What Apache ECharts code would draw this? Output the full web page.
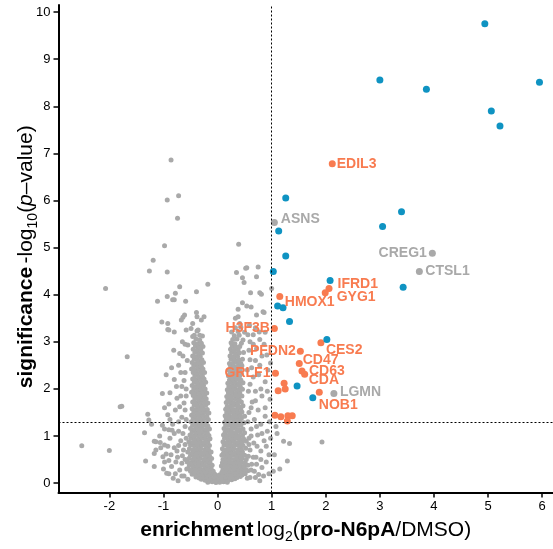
<!DOCTYPE html>
<html>
<head>
<meta charset="utf-8">
<script src="https://cdn.jsdelivr.net/npm/echarts@6/dist/echarts.min.js"></script>
<style>
  html, body { margin: 0; padding: 0; background: #fff; }
  #chart { width: 553px; height: 549px; }
</style>
</head>
<body>
<div id="chart"></div>
<script>
// tick labels
var xTicks = [-2, -1, 0, 1, 2, 3, 4, 5, 6];
var yTicks = [0, 1, 2, 3, 4, 5, 6, 7, 8, 9, 10];

// cut-offs (dotted lines)
var xCut = 1;
var yCut = 1.3;

// not significant proteins: [log2 ratio, -log10 p]
var grayPoints = [
  [-0.18,0.02],[-0.1,0.03],[-0.03,0.01],[0.04,0.02],[0.11,0.03],[0.18,0.02],
  [-0.3,0.08],[-0.23,0.06],[-0.16,0.07],[-0.09,0.08],[-0.02,0.06],[0.05,0.07],[0.12,0.08],[0.19,0.06],[0.26,0.07],[0.32,0.09],
  [-0.4,0.13],[-0.34,0.11],[-0.27,0.12],[-0.2,0.13],[-0.13,0.11],[-0.06,0.12],[0.01,0.13],[0.08,0.11],[0.15,0.12],[0.22,0.13],[0.29,0.11],[0.36,0.12],[0.42,0.14],
  [-0.47,0.19],[-0.4,0.17],[-0.33,0.18],[-0.26,0.19],[-0.19,0.17],[-0.12,0.18],[-0.05,0.19],[0.03,0.17],[0.1,0.18],[0.17,0.19],[0.24,0.17],[0.31,0.18],[0.38,0.19],[0.45,0.17],[0.51,0.2],
  [-0.5,0.25],[-0.43,0.23],[-0.36,0.24],[-0.29,0.25],[-0.22,0.23],[-0.15,0.24],[-0.08,0.25],[0.08,0.23],[0.15,0.24],[0.22,0.25],[0.29,0.23],[0.36,0.24],[0.43,0.25],[0.5,0.23],[0.56,0.26],
  [-0.54,0.31],[-0.47,0.29],[-0.4,0.3],[-0.33,0.31],[-0.26,0.29],[-0.19,0.3],[-0.12,0.31],[0.1,0.29],[0.17,0.3],[0.24,0.31],[0.31,0.29],[0.38,0.3],[0.45,0.31],[0.52,0.29],
  [-0.52,0.38],[-0.45,0.36],[-0.38,0.37],[-0.31,0.38],[-0.24,0.36],[-0.17,0.37],[-0.1,0.38],[0.07,0.36],[0.14,0.37],[0.21,0.38],[0.28,0.36],[0.35,0.37],[0.42,0.38],[0.49,0.36],[0.56,0.38],
  [-0.56,0.45],[-0.49,0.43],[-0.42,0.44],[-0.35,0.45],[-0.28,0.43],[-0.21,0.44],[-0.14,0.45],[0.09,0.43],[0.16,0.44],[0.23,0.45],[0.3,0.43],[0.37,0.44],[0.44,0.45],[0.51,0.43],
  [-0.53,0.52],[-0.46,0.5],[-0.39,0.51],[-0.32,0.52],[-0.25,0.5],[-0.18,0.51],[-0.11,0.52],[0.1,0.5],[0.17,0.51],[0.24,0.52],[0.31,0.5],[0.38,0.51],[0.45,0.52],[0.53,0.5],
  [-0.5,0.59],[-0.43,0.57],[-0.36,0.58],[-0.29,0.59],[-0.22,0.57],[-0.15,0.58],[0.08,0.59],[0.15,0.57],[0.22,0.58],[0.29,0.59],[0.36,0.57],[0.43,0.58],[0.5,0.59],[0.57,0.57],
  [-0.55,0.66],[-0.47,0.64],[-0.4,0.65],[-0.33,0.66],[-0.26,0.64],[-0.19,0.65],[-0.12,0.66],[0.11,0.64],[0.18,0.65],[0.25,0.66],[0.32,0.64],[0.39,0.65],[0.46,0.66],
  [-0.52,0.73],[-0.45,0.71],[-0.38,0.72],[-0.31,0.73],[-0.24,0.71],[-0.17,0.72],[0.09,0.73],[0.16,0.71],[0.23,0.72],[0.3,0.73],[0.37,0.71],[0.44,0.72],[0.52,0.74],
  [-0.5,0.81],[-0.43,0.79],[-0.36,0.8],[-0.29,0.81],[-0.22,0.79],[-0.15,0.8],[0.12,0.81],[0.19,0.79],[0.26,0.8],[0.33,0.81],[0.4,0.79],[0.47,0.8],
  [-0.53,0.88],[-0.46,0.86],[-0.39,0.87],[-0.32,0.88],[-0.25,0.86],[-0.18,0.87],[0.1,0.88],[0.17,0.86],[0.24,0.87],[0.31,0.88],[0.38,0.86],[0.45,0.87],[0.53,0.89],
  [-0.49,0.95],[-0.42,0.93],[-0.35,0.94],[-0.28,0.95],[-0.21,0.93],[-0.14,0.94],[0.13,0.95],[0.2,0.93],[0.27,0.94],[0.34,0.95],[0.41,0.93],[0.48,0.94],
  [-0.51,1.02],[-0.44,1.0],[-0.37,1.01],[-0.3,1.02],[-0.23,1.0],[-0.16,1.01],[0.11,1.02],[0.18,1.0],[0.25,1.01],[0.32,1.02],[0.39,1.0],[0.46,1.01],
  [-0.47,1.09],[-0.4,1.07],[-0.33,1.08],[-0.26,1.09],[-0.19,1.07],[0.14,1.08],[0.21,1.09],[0.28,1.07],[0.35,1.08],[0.42,1.09],[0.5,1.07],
  [-0.5,1.16],[-0.43,1.14],[-0.36,1.15],[-0.29,1.16],[-0.22,1.14],[-0.15,1.15],[0.12,1.16],[0.19,1.14],[0.26,1.15],[0.33,1.16],[0.4,1.14],[0.47,1.15],
  [-0.46,1.23],[-0.39,1.21],[-0.32,1.22],[-0.25,1.23],[-0.18,1.21],[0.15,1.22],[0.22,1.23],[0.29,1.21],[0.36,1.22],[0.43,1.23],
  [-0.49,1.3],[-0.42,1.28],[-0.35,1.29],[-0.28,1.3],[-0.21,1.28],[0.13,1.29],[0.2,1.3],[0.27,1.28],[0.34,1.29],[0.41,1.3],[0.49,1.28],
  [-0.45,1.37],[-0.38,1.35],[-0.31,1.36],[-0.24,1.37],[-0.17,1.35],[0.16,1.36],[0.23,1.37],[0.3,1.35],[0.37,1.36],[0.44,1.37],
  [-0.48,1.44],[-0.41,1.42],[-0.34,1.43],[-0.27,1.44],[-0.2,1.42],[0.14,1.43],[0.21,1.44],[0.28,1.42],[0.35,1.43],[0.42,1.44],[0.5,1.42],
  [-0.44,1.51],[-0.37,1.49],[-0.3,1.5],[-0.23,1.51],[-0.16,1.49],[0.17,1.5],[0.24,1.51],[0.31,1.49],[0.38,1.5],[0.45,1.51],
  [-0.47,1.58],[-0.4,1.56],[-0.33,1.57],[-0.26,1.58],[-0.19,1.56],[0.15,1.57],[0.22,1.58],[0.29,1.56],[0.36,1.57],[0.43,1.58],
  [-0.43,1.65],[-0.36,1.63],[-0.29,1.64],[-0.22,1.65],[0.18,1.63],[0.25,1.64],[0.32,1.65],[0.39,1.63],[0.47,1.64],
  [-0.46,1.72],[-0.39,1.7],[-0.32,1.71],[-0.25,1.72],[-0.18,1.7],[0.16,1.71],[0.23,1.72],[0.3,1.7],[0.37,1.71],[0.44,1.72],
  [-0.42,1.79],[-0.35,1.77],[-0.28,1.78],[-0.21,1.79],[0.19,1.77],[0.26,1.78],[0.33,1.79],[0.4,1.77],
  [-0.45,1.86],[-0.38,1.84],[-0.31,1.85],[-0.24,1.86],[0.17,1.84],[0.24,1.85],[0.31,1.86],[0.38,1.84],[0.45,1.85],
  [-0.48,1.93],[-0.41,1.91],[-0.34,1.92],[-0.27,1.93],[-0.2,1.91],[0.2,1.92],[0.27,1.93],[0.34,1.91],[0.41,1.92],
  [-0.44,2.0],[-0.37,1.98],[-0.3,1.99],[-0.23,2.0],[0.18,1.98],[0.25,1.99],[0.32,2.0],[0.39,1.98],[0.46,1.99],
  [-0.47,2.07],[-0.4,2.05],[-0.33,2.06],[-0.26,2.07],[0.21,2.05],[0.28,2.06],[0.35,2.07],[0.42,2.05],
  [-0.43,2.14],[-0.36,2.12],[-0.29,2.13],[-0.22,2.14],[0.19,2.12],[0.26,2.13],[0.33,2.14],[0.4,2.12],[0.47,2.13],
  [-0.46,2.21],[-0.39,2.19],[-0.32,2.2],[-0.25,2.21],[0.22,2.19],[0.29,2.2],[0.36,2.21],[0.43,2.19],
  [-0.42,2.28],[-0.35,2.26],[-0.28,2.27],[0.2,2.28],[0.27,2.26],[0.34,2.27],[0.41,2.28],
  [-0.45,2.35],[-0.38,2.33],[-0.31,2.34],[-0.24,2.35],[0.23,2.33],[0.3,2.34],[0.37,2.35],[0.44,2.33],
  [-0.48,2.42],[-0.41,2.4],[-0.34,2.41],[-0.27,2.42],[0.21,2.4],[0.28,2.41],[0.35,2.42],[0.42,2.4],
  [-0.44,2.49],[-0.37,2.47],[-0.3,2.48],[0.24,2.49],[0.31,2.47],[0.38,2.48],[0.45,2.49],
  [-0.47,2.56],[-0.4,2.54],[-0.33,2.55],[-0.26,2.56],[0.22,2.54],[0.29,2.55],[0.36,2.56],[0.43,2.54],
  [-0.43,2.63],[-0.36,2.61],[-0.29,2.62],[0.25,2.63],[0.32,2.61],[0.39,2.62],[0.46,2.63],
  [-0.46,2.7],[-0.39,2.68],[-0.32,2.69],[0.23,2.7],[0.3,2.68],[0.37,2.69],
  [-0.42,2.77],[-0.35,2.75],[-0.28,2.76],[0.26,2.77],[0.33,2.75],[0.4,2.76],[0.48,2.77],
  [-0.45,2.84],[-0.38,2.82],[-0.31,2.83],[0.24,2.84],[0.31,2.82],[0.38,2.83],
  [-0.41,2.91],[-0.34,2.89],[-0.27,2.9],[0.27,2.91],[0.34,2.89],[0.41,2.9],
  [-0.44,2.98],[-0.37,2.96],[-0.3,2.97],[0.25,2.98],[0.32,2.96],[0.44,2.97],
  [-0.4,3.06],[-0.33,3.04],[0.28,3.05],[0.36,3.06],[0.47,3.04],
  [-0.43,3.14],[-0.28,3.12],[0.31,3.13],[0.4,3.14],
  [-0.38,3.23],[0.26,3.21],[0.38,3.22],
  [0.33,3.3],[0.43,3.31],
  // left wing
  [-0.62,0.15],[-0.7,0.28],[-0.78,0.2],[-0.66,0.42],[-0.85,0.35],[-0.74,0.55],[-0.9,0.48],[-0.63,0.7],[-0.8,0.75],[-0.95,0.62],
  [-0.68,0.9],[-0.88,0.95],[-0.72,1.1],[-0.6,1.2],[-0.83,1.25],[-0.98,1.15],[-0.66,1.4],[-0.78,1.55],[-0.92,1.45],[-0.62,1.7],
  [-0.75,1.8],[-0.88,1.92],[-0.66,2.05],[-0.8,2.2],[-0.6,2.35],[-0.72,2.5],[-0.95,2.3],[-0.64,2.7],[-0.58,0.95],[-0.6,0.5],
  [-0.7,1.62],[-1.05,0.75],[-0.82,0.1],[-0.58,2.0],[-0.9,1.68],[-1.02,1.9],
  [-0.57,0.3],[-0.65,0.58],[-0.75,0.68],[-0.86,0.6],[-0.6,0.82],[-0.72,0.8],[-0.92,0.78],[-0.64,1.05],[-0.8,1.05],[-0.58,1.35],
  [-0.72,1.3],[-0.88,1.35],[-0.6,1.55],[-0.68,1.85],[-0.58,1.85],[-0.76,2.05],[-0.62,2.18],[-0.85,2.45],[-0.68,2.35],[-0.56,2.6],
  [-0.77,0.45],[-0.66,0.15],[-0.9,0.2],[-1.0,0.3],[-0.84,1.12],[-0.98,1.6],[-0.7,2.75],[-0.6,2.95],[-0.73,0.05],[-0.55,0.08],
  [-1.27,1.34],[-1.22,1.25],[-1.02,1.23],[-1.07,1.0],[-1.14,0.88],[-1.06,0.86],[-0.98,0.81],[-1.14,0.7],[-1.17,0.63],[-1.01,0.56],
  [-0.98,0.45],[-1.17,0.35],[-0.94,0.21],[-0.9,1.13],[-1.29,1.46],[-1.35,1.07],[-1.33,0.47],[-1.17,0.89],
  [-1.8,1.62],[-1.77,1.63],[-2.51,0.79],[-2.0,0.69],[-1.67,2.68],
  // left, upper part
  [-0.86,6.86],[-0.72,6.1],[-0.93,6.01],[-0.74,5.62],[-0.98,5.04],[-1.19,4.73],[-1.26,4.5],[-0.93,4.48],[-2.07,4.13],[-1.11,3.86],
  [-0.93,3.96],[-1.03,3.42],[-0.92,3.39],[-0.92,3.26],[-0.7,4.17],[-0.78,4.03],[-0.8,3.89],[-0.83,3.89],[-0.59,3.86],[-0.39,4.06],
  [-0.18,4.22],[-0.61,3.57],[-0.64,3.52],[-0.67,3.46],[-0.39,3.62],[-0.25,3.53],[-0.38,3.53],[-0.3,3.46],[-0.46,3.39],[-0.49,3.28],
  [-0.58,3.25],[-0.36,3.25],[-0.33,3.14],[-0.46,3.11],[-0.65,3.0],[-0.81,2.82],[-0.55,2.93],[-0.8,3.21],[-0.9,3.25],
  // right wing
  [0.6,0.12],[0.68,0.25],[0.76,0.18],[0.63,0.4],[0.82,0.33],[0.9,0.45],[0.71,0.55],[0.6,0.7],[0.8,0.68],[0.95,0.6],
  [0.67,0.85],[0.86,0.9],[0.74,1.02],[0.62,1.15],[0.92,1.1],[0.8,1.25],[0.68,1.35],[0.96,1.3],[0.58,1.5],[0.75,1.55],
  [0.88,1.6],[0.64,1.72],[0.82,1.85],[0.97,1.78],[0.7,1.95],[0.6,2.1],[0.88,2.15],[0.76,2.3],[0.63,2.45],[0.93,2.4],
  [0.7,2.6],[0.82,2.7],[0.58,2.82],[0.91,2.72],[0.66,2.95],[0.78,3.05],[0.56,3.15],[0.88,3.2],[0.7,3.3],[0.95,0.2],
  [0.98,0.95],[0.58,0.95],[0.72,0.4],
  [0.62,0.28],[0.7,0.12],[0.85,0.15],[0.66,0.55],[0.8,0.5],[0.58,0.82],[0.73,0.78],[0.9,0.78],[0.62,1.0],[0.82,1.05],
  [0.56,1.3],[0.72,1.2],[0.88,1.42],[0.62,1.6],[0.7,1.75],[0.57,1.95],[0.8,2.0],[0.66,2.25],[0.55,2.4],[0.78,2.5],
  [0.6,2.62],[0.72,2.85],[0.86,2.95],[0.6,3.0],[0.5,3.2],[0.66,3.15],[0.55,0.1],[0.78,0.05],[0.92,1.95],[0.98,2.55],
  // right, upper part
  [0.77,3.21],[0.59,3.35],[0.41,3.39],[0.33,3.5],[0.72,3.57],[0.84,3.64],[0.38,3.69],[0.54,3.76],[0.46,3.83],[0.62,3.74],
  [0.78,4.04],[0.61,4.04],[0.81,4.01],[0.46,4.36],[0.49,4.26],[0.35,4.47],[0.54,4.57],[0.75,4.59],[0.72,4.38],[0.39,5.07],
  [0.52,4.56],[0.86,3.62],[1.0,4.13],[0.38,3.53],
  // right of the cut, not significant
  [1.22,0.89],[1.33,0.84],[1.29,0.47],[1.05,0.6],[1.1,1.05],[1.03,0.25],[1.15,0.3],[1.93,0.87],[1.08,1.2]
];

// labelled, not significant
var namedGrayPoints = [[1.05, 5.53], [3.97, 4.88], [3.73, 4.49], [2.15, 1.90]];
var namedGrayNames = ['ASNS', 'CREG1', 'CTSL1', 'LGMN'];

// enriched, orange group
var orangePoints = [
  [2.12,6.78],[2.06,4.13],[1.99,4.04],[1.15,3.96],[1.05,3.28],[1.91,2.98],[1.53,2.80],[1.51,2.54],[1.56,2.38],[1.61,2.31],
  [1.07,2.33],[1.88,1.93],[1.23,2.12],[1.25,2.0],[1.12,1.96],[1.06,1.44],[1.17,1.41],[1.30,1.43],[1.38,1.43],[1.29,1.32]
];
var orangeNames = ['EDIL3', 'IFRD1', 'GYG1', 'HMOX1', 'H3F3B', 'CES2', 'PFDN2', 'CD47', 'CD63', 'CDA',
  'GRLF1', 'NOB1', '', '', '', '', '', '', '', ''];

// enriched, blue group
var bluePoints = [
  [4.94,9.75],[3.0,8.56],[3.86,8.36],[5.95,8.51],[5.06,7.9],[5.22,7.58],[3.40,5.76],[3.05,5.45],[3.43,4.16],[1.26,6.05],
  [1.13,5.35],[1.26,4.82],[1.03,4.49],[2.08,4.30],[1.11,3.76],[1.21,3.72],[1.33,3.43],[2.02,3.05],[1.47,2.06],[1.76,1.81]
];

var ORANGE = '#f87b50';
var BLUE = '#0f93c2';
var GRAY = '#a9a9a9';
var FONT = 'Liberation Sans, Arial, sans-serif';

// where each gene name sits next to its dot: [side, distance, dx, dy]
var labelPlace = {
  EDIL3: ['right', 1, 0, 0],
  IFRD1: ['right', 5, 0, -4],
  GYG1: ['right', 8, 0, 4],
  HMOX1: ['right', 1.5, 0, 6],
  H3F3B: ['left', 1, 0, 0],
  CES2: ['right', 1.5, 0, 7],
  PFDN2: ['left', 1, 0, 0],
  CD47: ['right', 0, 0, -3],
  CD63: ['right', 3.5, 0, 0],
  CDA: ['right', 0.5, 0, 6],
  GRLF1: ['left', 1.5, 0, 0],
  NOB1: ['right', 0, -4, 13],
  ASNS: ['right', 3, 0, -3],
  CREG1: ['left', 2, 0, 0],
  CTSL1: ['right', 2.5, 0, 0],
  LGMN: ['right', 2.5, 0, -1]
};

function labelled(points, names, color) {
  return points.map(function (p, i) {
    var item = { value: p };
    var pl = labelPlace[names[i]];
    if (pl) {
      item.label = {
        show: true,
        formatter: names[i],
        position: pl[0],
        distance: pl[1],
        offset: [pl[2], pl[3]],
        color: color,
        fontFamily: FONT,
        fontWeight: 'bold',
        fontSize: 14
      };
    }
    return item;
  });
}

var myChart = echarts.init(document.getElementById('chart'));

var axisCommon = {
  type: 'value',
  splitLine: { show: false },
  axisLine: { show: true, onZero: false, lineStyle: { color: '#000', width: 2 } },
  axisTick: { show: true, length: 5, lineStyle: { color: '#000', width: 1.5 } },
  nameLocation: 'middle',
  nameMoveOverlap: false,
  nameTextStyle: {
    fontFamily: FONT,
    color: '#000',
    rich: {
      b: { fontFamily: FONT, fontSize: 21, fontWeight: 'bold', color: '#000', lineHeight: 28 },
      n: { fontFamily: FONT, fontSize: 21, color: '#000', lineHeight: 28 },
      i: { fontFamily: FONT, fontSize: 21, fontStyle: 'italic', color: '#000', lineHeight: 28 },
      s: { fontFamily: FONT, fontSize: 14, color: '#000', lineHeight: 14, verticalAlign: 'bottom' }
    }
  }
};

var option = {
  animation: false,
  backgroundColor: '#fff',
  grid: { left: 58.5, right: 0, top: 5, bottom: 56.5, containLabel: false, outerBoundsMode: 'none' },
  xAxis: Object.assign({}, axisCommon, {
    min: -2.94,
    max: 6.2,
    name: '{b|enrichment} {n|log}{s|2}{n|(}{b|pro-N6pA}{n|/DMSO)}',
    nameGap: 24,
    axisTick: Object.assign({}, axisCommon.axisTick, { customValues: xTicks }),
    axisLabel: { customValues: xTicks, fontFamily: FONT, fontSize: 13, color: '#000', margin: 7 }
  }),
  yAxis: Object.assign({}, axisCommon, {
    min: -0.2,
    max: 10.15,
    name: '{b|significance} {n|-log}{s|10}{n|(}{i|p}{n|–value)}',
    nameRotate: 90,
    nameGap: 18,
    nameTextStyle: Object.assign({}, axisCommon.nameTextStyle, { padding: [0, 16, 0, 0] }),
    axisTick: Object.assign({}, axisCommon.axisTick, { customValues: yTicks }),
    axisLabel: { customValues: yTicks, fontFamily: FONT, fontSize: 13, color: '#000', margin: 8 }
  }),
  series: [
    {
      name: 'ns',
      type: 'scatter',
      data: grayPoints,
      symbolSize: 5,
      itemStyle: { color: GRAY, opacity: 1 },
      silent: true,
      markLine: {
        silent: true,
        symbol: 'none',
        label: { show: false },
        lineStyle: { color: '#000', type: [2, 2], width: 1 },
        data: [{ xAxis: xCut }, { yAxis: yCut }]
      }
    },
    {
      name: 'orange',
      type: 'scatter',
      data: labelled(orangePoints, orangeNames, ORANGE),
      symbolSize: 7,
      itemStyle: { color: ORANGE, opacity: 1 }
    },
    {
      name: 'blue',
      type: 'scatter',
      data: bluePoints,
      symbolSize: 7,
      itemStyle: { color: BLUE, opacity: 1 }
    },
    {
      name: 'named',
      type: 'scatter',
      data: labelled(namedGrayPoints, namedGrayNames, GRAY),
      symbolSize: 7,
      itemStyle: { color: GRAY, opacity: 1 }
    }
  ]
};

myChart.setOption(option);
</script>
</body>
</html>
